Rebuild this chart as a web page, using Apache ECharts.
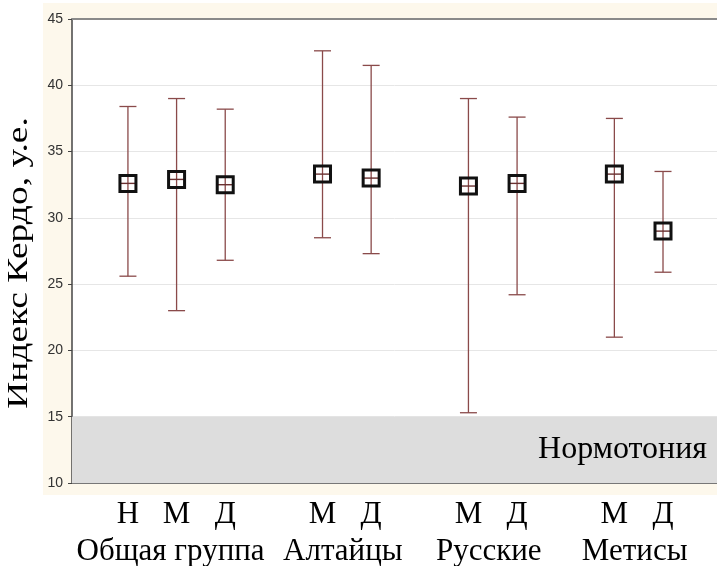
<!DOCTYPE html>
<html>
<head>
<meta charset="utf-8">
<script src="https://cdn.jsdelivr.net/npm/echarts@6/dist/echarts.min.js"></script>
<style>
  html, body { margin: 0; padding: 0; background: #ffffff; }
  #chart { width: 717px; height: 566px; }
</style>
</head>
<body>
<div id="chart"></div>
<script>
// Slot labels along the x axis; empty strings separate the groups
const slotLabels = ['Н', 'М', 'Д', '', 'М', 'Д', '', 'М', 'Д', '', 'М', 'Д'];
const groupNames = ['Общая группа', 'Алтайцы', 'Русские', 'Метисы'];
// Mean and range of the Kerdo index for each subgroup, in slot order
const means = [32.6, 32.9, 32.5, 33.3, 33.0, 32.4, 32.6, 33.3, 29.0];
const lows  = [25.6, 23.0, 26.8, 28.5, 27.3, 15.3, 24.2, 21.0, 25.9];
const highs = [38.4, 39.0, 38.2, 42.6, 41.5, 39.0, 37.6, 37.5, 33.5];
const yTicks = [10, 15, 20, 25, 30, 35, 40, 45];
const normBand = [10, 15];
const normLabel = 'Нормотония';
const yTitle = 'Индекс Кердо, у.е.';

const SERIF = '"Liberation Serif", "Times New Roman", serif';
const SANS = '"Liberation Sans", Arial, sans-serif';

// slot index of every filled slot
const slotIdx = [];
slotLabels.forEach((l, i) => { if (l !== '') slotIdx.push(i); });

// group slot ranges: consecutive filled slots
const groups = [];
let cur = [];
slotLabels.forEach((l, i) => {
  if (l === '') { if (cur.length) groups.push(cur); cur = []; }
  else cur.push(i);
});
if (cur.length) groups.push(cur);

const rows = slotIdx.map((s, i) => [s, means[i], lows[i], highs[i]]);

const chart = echarts.init(document.getElementById('chart'));

const GRID = { left: 72, top: 19, right: -3, bottom: 83 };

function renderBar(params, api) {
  const x = api.value(0);
  const m = api.coord([x, api.value(1)]);
  const lo = api.coord([x, api.value(2)]);
  const hi = api.coord([x, api.value(3)]);
  const cap = 8.5;
  const half = 8;
  const barStyle = { stroke: '#8a4a4a', lineWidth: 1.3, fill: null };
  return {
    type: 'group',
    children: [
      { type: 'line', shape: { x1: m[0], y1: lo[1], x2: m[0], y2: hi[1] }, style: barStyle },
      { type: 'line', shape: { x1: m[0] - cap, y1: lo[1], x2: m[0] + cap, y2: lo[1] }, style: barStyle },
      { type: 'line', shape: { x1: m[0] - cap, y1: hi[1], x2: m[0] + cap, y2: hi[1] }, style: barStyle },
      { type: 'line', shape: { x1: m[0] - half, y1: m[1], x2: m[0] + half, y2: m[1] },
        style: { stroke: '#6a3030', lineWidth: 1.4 } },
      { type: 'rect', shape: { x: m[0] - half, y: m[1] - half, width: 2 * half, height: 2 * half },
        style: { stroke: '#111111', lineWidth: 3, fill: null } }
    ]
  };
}

const option = {
  backgroundColor: '#ffffff',
  animation: false,
  grid: Object.assign({ show: true, backgroundColor: '#ffffff', borderWidth: 0 }, GRID),
  xAxis: [{
    type: 'value',
    min: -1.15,
    max: 12.11,
    position: 'bottom',
    axisLine: { show: true, onZero: false, lineStyle: { color: '#777777', width: 2 } },
    axisTick: { show: false },
    splitLine: { show: false },
    axisLabel: {
      show: true,
      customValues: slotIdx,
      formatter: v => slotLabels[Math.round(v)] || '',
      fontFamily: SERIF, fontSize: 31, color: '#000000', margin: 16
    }
  }, {
    type: 'value',
    min: -1.15,
    max: 12.11,
    position: 'top',
    axisLine: { show: true, onZero: false, lineStyle: { color: '#8a8a8a', width: 2 } },
    axisTick: { show: false },
    splitLine: { show: false },
    axisLabel: { show: false }
  }],
  yAxis: {
    type: 'value',
    min: yTicks[0],
    max: yTicks[yTicks.length - 1],
    interval: 5,
    axisLine: { show: true, onZero: false, lineStyle: { color: '#444444', width: 1.5 } },
    axisTick: { show: true, length: 4, lineStyle: { color: '#444444' } },
    splitLine: { show: true, lineStyle: { color: '#e6e6e6', width: 1 } },
    axisLabel: { fontFamily: SANS, fontSize: 14, color: '#333333', margin: 9 }
  },
  series: [{
    type: 'custom',
    renderItem: renderBar,
    data: rows,
    encode: { x: 0, y: [1, 2, 3] },
    z: 5,
    markArea: {
      silent: true,
      itemStyle: { color: '#dddddd' },
      label: {
        show: true, position: 'insideRight', formatter: normLabel,
        fontFamily: SERIF, fontSize: 32, color: '#000000', distance: 10
      },
      data: [[{ yAxis: normBand[0] }, { yAxis: normBand[1] }]]
    }
  }]
};

chart.setOption(option);

// Outer cream panel, group names and the y-axis title
const plotBottom = chart.convertToPixel({ yAxisIndex: 0 }, yTicks[0]);
const plotTop = chart.convertToPixel({ yAxisIndex: 0 }, yTicks[yTicks.length - 1]);
const groupTexts = groups.map((g, i) => {
  const cx = chart.convertToPixel({ xAxisIndex: 0 }, (g[0] + g[g.length - 1]) / 2);
  return {
    type: 'text', x: cx - (i === 0 ? 6 : 4), y: plotBottom + 69, z: 10,
    style: { text: groupNames[i], font: '31px ' + SERIF, fill: '#000000',
             textAlign: 'center', textVerticalAlign: 'middle' }
  };
});

chart.setOption({
  graphic: [
    { type: 'rect', z: -100, shape: { x: 43, y: 3, width: 700, height: plotBottom + 12 - 3 },
      style: { fill: '#fdf8ec' } }
  ].concat(groupTexts, [{
    type: 'text', x: 19, y: (plotTop + plotBottom) / 2 + 12, rotation: Math.PI / 2,
    scaleX: 1.25, scaleY: 1, z: 10,
    style: { text: yTitle, font: '30px ' + SERIF, fill: '#000000',
             textAlign: 'center', textVerticalAlign: 'middle' }
  }])
});
</script>
</body>
</html>
